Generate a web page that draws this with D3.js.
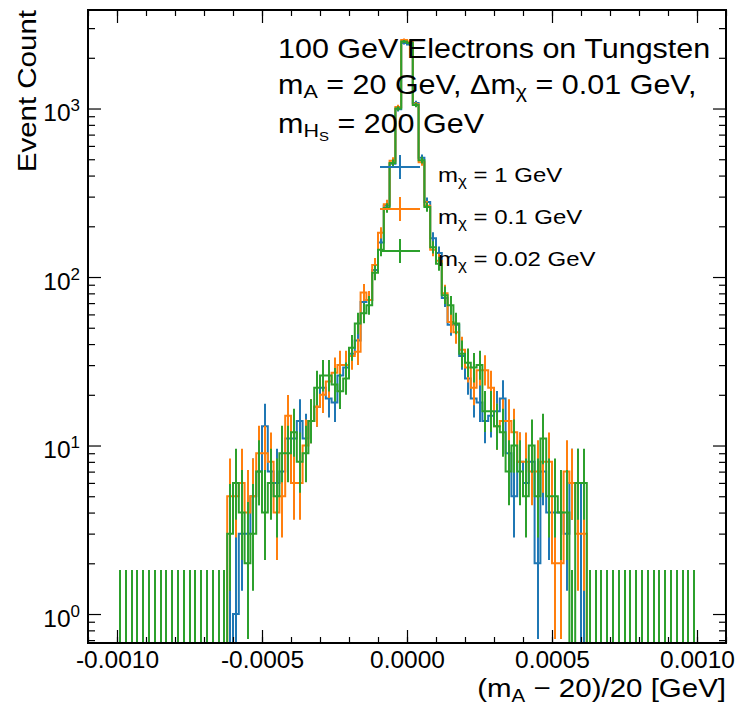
<!DOCTYPE html>
<html>
<head>
<meta charset="utf-8">
<script src="https://cdn.jsdelivr.net/npm/d3@7/dist/d3.min.js"></script>
<style>
  body { margin: 0; background: #fff; }
  text { font-family: "Liberation Sans", Arial, sans-serif; fill: #000; }
</style>
</head>
<body>
<div id="chart"></div>
<script>
// histogram: 100 bins of width 2e-5 between -0.001 and 0.001
const binStart = -0.001;
const binWidth = 0.00002;

// counts per bin
const countsBlue = [
  0,0,0,0,0,0,0,0,0,0, 0,0,0,0,0,0,0,0,0,
  0,1,3,3,5,7,13,7,6,7, 11,11,14,11,14,17,22,19,18,26,
  29,35,42,71,73,110,160,265,470,990, 2450,2400,1080,510,279,170,139,75,52,52,
  34,25,19,18,14,15,16,19,9,5, 8,6,8,2,7,4,4,4,3,6, 6,0,
  0,0,0,0,0,0,0,0,0,0, 0,0,0,0,0,0,0,0,0
];
const countsOrange = [
  0,0,0,0,0,0,0,0,0,0, 0,0,0,0,0,0,0,0,0,
  5,5,6,4,5,9,9,8,4,5, 15,6,6,10,14,17,20,24,27,30,
  30,34,36,81,73,118,183,270,490,1020, 2550,2500,1060,480,265,145,125,80,54,47,
  37,29,22,28,28,22,13,14,14,12, 8,8,7,7,8,8,2,2,7,6, 3,3,
  0,0,0,0,0,0,0,0,0,0, 0,0,0,0,0,0,0,0,0
];
const countsGreen = [
  0,0,0,0,0,0,0,0,0,0, 0,0,0,0,0,0,0,0,0,
  3,6,4,2,3,7,4,6,5,9, 9,12,8,9,14,22,26,26,23,21,
  25,38,53,61,68,106,145,257,475,1000, 2500,2450,1050,494,260,150,120,78,68,53,
  35,31,29,30,16,16,13,12,7,10, 7,5,10,5,11,5,5,4,4,0, 6,6,
  0,0,0,0,0,0,0,0,0,0, 0,0,0,0,0,0,0,0,0
];

const seriesMass = ["1", "0.1", "0.02"];
const colours = ["#1f77b4", "#ff7f0e", "#2ca02c"];
const xTicks = [-0.001, -0.0005, 0, 0.0005, 0.001];
const yTicks = [1, 10, 100, 1000];

const width = 736, height = 710;
const margin = { top: 10, right: 10, bottom: 67, left: 88 };
const graphWidth = width - margin.left - margin.right;
const graphHeight = height - margin.top - margin.bottom;
const squash = 0.88;   // the reference text is a little flatter than Liberation Sans

const x = d3.scaleLinear().domain([-0.0011, 0.0011]).range([0, graphWidth]);
const y = d3.scaleLog().domain([0.673, 3843]).range([graphHeight, 0]);

// poisson 1-sigma interval (Gehrels approximation)
const poissonLo = n => n <= 0 ? 0 : n * Math.pow(1 - 1 / (9 * n) - 1 / (3 * Math.sqrt(n)), 3);
const poissonHi = n => (n + 1) * Math.pow(1 - 1 / (9 * (n + 1)) + 1 / (3 * Math.sqrt(n + 1)), 3);
const yPos = v => v > 0 ? Math.max(-50, y(v)) : graphHeight + 60;

const svg = d3.select("#chart").append("svg")
  .attr("width", width).attr("height", height);

svg.append("defs").append("clipPath").attr("id", "clip")
  .append("rect").attr("width", graphWidth).attr("height", graphHeight);

const graph = svg.append("g")
  .attr("transform", `translate(${margin.left}, ${margin.top})`);

const plot = graph.append("g").attr("clip-path", "url(#clip)");

[countsBlue, countsOrange, countsGreen].forEach((counts, s) => {
  const bins = counts.map((c, i) => ({
    x0: binStart + i * binWidth,
    x1: binStart + (i + 1) * binWidth,
    c: c
  }));

  const g = plot.append("g");

  // step outline
  const stepPts = bins.map(b => [x(b.x0), yPos(b.c)]);
  stepPts.push([x(bins[bins.length - 1].x1), yPos(bins[bins.length - 1].c)]);
  g.append("path")
    .attr("d", d3.line().curve(d3.curveStepAfter)(stepPts))
    .attr("fill", "none")
    .attr("stroke", colours[s])
    .attr("stroke-width", 2);

  // error bars at bin centres (snapped to whole pixels so the top colour covers)
  g.selectAll("line.err").data(bins).enter().append("line")
    .attr("class", "err")
    .attr("x1", b => Math.round(x((b.x0 + b.x1) / 2)))
    .attr("x2", b => Math.round(x((b.x0 + b.x1) / 2)))
    .attr("y1", b => yPos(poissonLo(b.c)))
    .attr("y2", b => yPos(poissonHi(b.c)))
    .attr("stroke", colours[s])
    .attr("stroke-width", 2);
});

// axes, ticks pointing inward on all four sides
const xMinor = d3.range(-11, 12).map(v => v * 0.0001);
const yMinor = y.ticks().filter(v => Math.abs(Math.log10(v) - Math.round(Math.log10(v))) > 1e-6);

const fmtX = d => d.toFixed(4);

const xAxisGroup = graph.append("g").attr("transform", `translate(0, ${graphHeight})`)
  .call(d3.axisBottom(x).tickValues(xTicks).tickFormat(fmtX).tickSize(-13).tickPadding(8));
graph.append("g").attr("transform", `translate(0, ${graphHeight})`)
  .call(d3.axisBottom(x).tickValues(xMinor).tickFormat("").tickSize(-6));

graph.append("g").call(d3.axisTop(x).tickValues(xTicks).tickFormat("").tickSize(-13));
graph.append("g").call(d3.axisTop(x).tickValues(xMinor).tickFormat("").tickSize(-6));

const yAxisGroup = graph.append("g")
  .call(d3.axisLeft(y).tickValues(yTicks).tickSize(-13).tickPadding(8));
graph.append("g").call(d3.axisLeft(y).tickValues(yMinor).tickFormat("").tickSize(-7));

graph.append("g").attr("transform", `translate(${graphWidth}, 0)`)
  .call(d3.axisRight(y).tickValues(yTicks).tickFormat("").tickSize(-13));
graph.append("g").attr("transform", `translate(${graphWidth}, 0)`)
  .call(d3.axisRight(y).tickValues(yMinor).tickFormat("").tickSize(-7));

graph.selectAll(".domain").remove();
graph.selectAll(".tick line").attr("stroke", "#000").attr("stroke-width", 1.2);

xAxisGroup.selectAll(".tick text")
  .attr("font-size", 24.5)
  .attr("font-family", "Liberation Sans, Arial, sans-serif");

// 10^n labels
yAxisGroup.selectAll(".tick text").each(function(d) {
  const t = d3.select(this)
    .attr("font-size", 24.5)
    .attr("font-family", "Liberation Sans, Arial, sans-serif")
    .attr("dy", "0.5em")
    .text(null);
  t.append("tspan").text("10");
  t.append("tspan").attr("font-size", 17).attr("dy", "-0.6em").text(Math.round(Math.log10(d)));
});

// frame
graph.append("rect")
  .attr("width", graphWidth).attr("height", graphHeight)
  .attr("fill", "none").attr("stroke", "#000").attr("stroke-width", 2);

// text helper: a slightly flattened text element at (px, py)
const flatText = (parent, px, py, size, anchor, rotate) =>
  parent.append("g")
    .attr("transform", `translate(${px}, ${py})` + (rotate ? ` rotate(${rotate})` : "") + ` scale(1, ${squash})`)
    .append("text")
    .attr("font-size", size)
    .attr("text-anchor", anchor || "start");

// axis titles
const xTitle = flatText(svg, margin.left + graphWidth, 697, 29.5, "end");
xTitle.append("tspan").text("(m");
xTitle.append("tspan").attr("font-size", 20.5).attr("dy", 6).text("A");
xTitle.append("tspan").attr("dy", -6).text(" − 20)/20 [GeV]");

flatText(svg, 36, margin.top, 29.5, "end", -90).text("Event Count");

// annotation
flatText(svg, 278, 57.5, 30.5).text("100 GeV Electrons on Tungsten");

const l2 = flatText(svg, 278, 93.5, 30.5);
l2.append("tspan").text("m");
l2.append("tspan").attr("font-size", 21.5).attr("dy", 5).text("A");
l2.append("tspan").attr("dy", -5).text(" = 20 GeV, Δm");
l2.append("tspan").attr("font-size", 21.5).attr("dy", 5).text("χ");
l2.append("tspan").attr("dy", -5).text(" = 0.01 GeV,");

const l3 = flatText(svg, 278, 132.5, 30.5);
l3.append("tspan").text("m");
l3.append("tspan").attr("font-size", 21.5).attr("dy", 5).text("H");
l3.append("tspan").attr("font-size", 15).attr("dy", 5).text("S");
l3.append("tspan").attr("dy", -10).text(" = 200 GeV");

// legend
const legend = svg.append("g").attr("transform", "translate(380, 167)");
seriesMass.forEach((m, i) => {
  const row = legend.append("g").attr("transform", `translate(0, ${i * 42})`);
  row.append("line").attr("x1", 0).attr("x2", 40).attr("y1", 0).attr("y2", 0)
    .attr("stroke", colours[i]).attr("stroke-width", 2);
  row.append("line").attr("x1", 20).attr("x2", 20).attr("y1", -12).attr("y2", 12)
    .attr("stroke", colours[i]).attr("stroke-width", 2);
  const t = flatText(row, 58, 15, 24);
  t.append("tspan").text("m");
  t.append("tspan").attr("font-size", 17).attr("dy", 5).text("χ");
  t.append("tspan").attr("dy", -5).text(` = ${m} GeV`);
});
</script>
</body>
</html>
